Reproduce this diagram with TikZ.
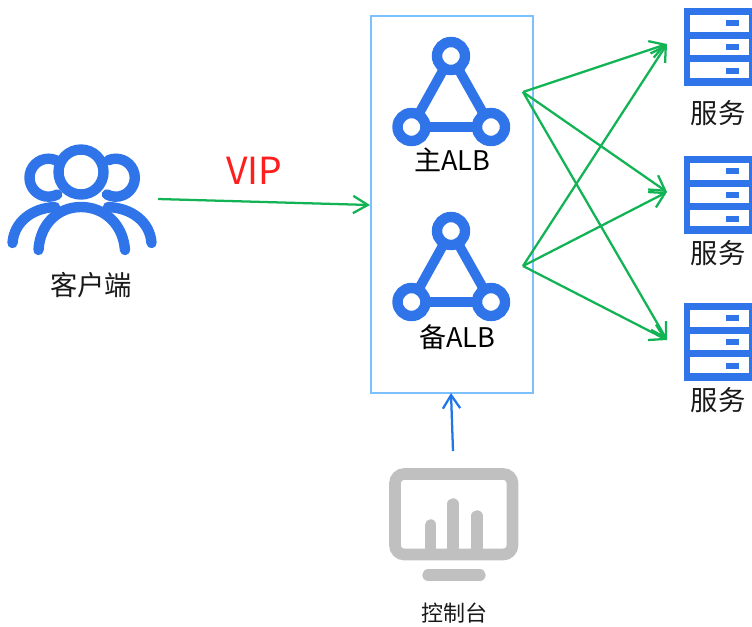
\documentclass[tikz,border=0pt]{standalone}
\usepackage{fontspec}
\setmainfont{Noto Sans CJK SC}
\usetikzlibrary{arrows.meta}
\definecolor{iconblue}{HTML}{2F74E8}
\definecolor{boxblue}{HTML}{7CC0FF}
\definecolor{arrowgreen}{HTML}{12B354}
\definecolor{arrowblue}{HTML}{2075E8}
\definecolor{monitorgray}{HTML}{C0C0C0}
\definecolor{vipred}{HTML}{FF1E1E}
\tikzset{
  px/.style={x=0.75pt,y=-0.75pt},
  iconline/.style={draw=iconblue,line width=7.8pt,line cap=round},
  ring/.style={draw=iconblue,line width=7.8pt,fill=white},
  greenarrow/.style={draw=arrowgreen,line width=1.7pt,-{Straight Barb[length=11pt,width=13pt,line width=1.7pt]}},
  bluearrow/.style={draw=arrowblue,line width=1.7pt,-{Straight Barb[length=10pt,width=13pt,line width=1.7pt]}},
  graybar/.style={draw=monitorgray,line width=8.5pt,line cap=round},
  lbl/.style={inner sep=0pt,text=black!90,font=\fontsize{20.5}{24}\selectfont},
  smalllbl/.style={inner sep=0pt,text=black!90,font=\fontsize{16.5}{20}\selectfont},
  mainlbl/.style={inner sep=0pt,text=black,font=\fontsize{20.3}{24}\selectfont},
}
\newcommand{\albicon}[1]{%
  \draw[draw=iconblue,line width=7.3pt] (451,{#1}) -- (411.5,{#1+71}) -- (491,{#1+71}) -- cycle;
  \draw[ring] (451,{#1}) circle (14);
  \draw[ring] (411.5,{#1+71}) circle (14);
  \draw[ring] (491,{#1+71}) circle (14);
}
\newcommand{\servericon}[1]{%
  \fill[iconblue] (683.5,{#1}) rectangle (752,{#1+78});
  \fill[white] (690,{#1+7}) rectangle (749,{#1+24});
  \fill[white] (690,{#1+30.5}) rectangle (749,{#1+47});
  \fill[white] (690,{#1+54}) rectangle (749,{#1+70});
  \fill[iconblue] (725.7,{#1+12}) rectangle (739,{#1+18});
  \fill[iconblue] (725.7,{#1+35.5}) rectangle (739,{#1+42});
  \fill[iconblue] (725.7,{#1+60}) rectangle (739,{#1+65.5});
}
\begin{document}
\begin{tikzpicture}[px]
\useasboundingbox (0,0) rectangle (752,626);
% client icon
\draw[iconline] (48.5,177.7) ++(-67:19) arc[start angle=-67,end angle=-298,radius=19];
\draw[iconline] (115.8,177.7) ++(-113:19) arc[start angle=-113,end angle=118,radius=19];
\draw[ring,fill=none] (81,172) circle (22.5);
\draw[iconline] (12.5,243) .. controls (14,222) and (32,208) .. (55,207);
\draw[iconline] (151.5,243) .. controls (150,222) and (132,208) .. (108,207);
\draw[iconline] (38.5,250) .. controls (40,224) and (58,207) .. (81,207) .. controls (104,207) and (123,224) .. (125,250);
\node[lbl] (client) at (91,285) {客户端};
% VIP
\node[inner sep=0pt,text=vipred,font=\fontsize{28}{32}\selectfont] (vip) at (254.5,171) {VIP};
% box
\node[draw=boxblue,line width=1.5pt,minimum width=122pt,minimum height=282.5pt,inner sep=0pt,anchor=north west] (albbox) at (369.5,15) {};
\albicon{56}
\node[mainlbl] (mainalb) at (452,160) {主ALB};
\albicon{231}
\node[mainlbl] (backupalb) at (457,337) {备ALB};
% servers
\servericon{8}
\servericon{156}
\servericon{303}
\node[lbl] (srv1) at (718,113) {服务};
\node[lbl] (srv2) at (718,253) {服务};
\node[lbl] (srv3) at (718,400) {服务};
% monitor
\draw[draw=monitorgray,line width=8.75pt,rounded corners=7pt] (395,474) rectangle (512.5,554.5);
\draw[graybar,line cap=butt] (430.7,549) -- (430.7,525);
\draw[graybar,line cap=butt] (453,549) -- (453,504);
\draw[graybar,line cap=butt] (477,549) -- (477,516);
\draw[graybar] (430.7,525) -- (430.7,524.9);
\draw[graybar] (453,504) -- (453,503.9);
\draw[graybar] (477,516) -- (477,515.9);
\draw[graybar] (428,575) -- (480,575);
\node[smalllbl] (console) at (454,613) {控制台};
% connector ends
\coordinate (clientout) at (158,199);
\coordinate (boxin) at (370,205);
\coordinate (mainout) at (523,92);
\coordinate (backupout) at (523,266);
\coordinate (s1in) at (667,44);
\coordinate (s2in) at (667,192);
\coordinate (s3in) at (667,340);
\coordinate (consoleout) at (453,451);
\coordinate (boxbottom) at (451,393);
\draw[greenarrow] (clientout) -- (boxin);
\foreach \s in {s1in,s2in,s3in}{
  \draw[greenarrow] (mainout) -- (\s);
  \draw[greenarrow] (backupout) -- (\s);
}
\draw[bluearrow] (consoleout) -- (boxbottom);
\end{tikzpicture}
\end{document}
